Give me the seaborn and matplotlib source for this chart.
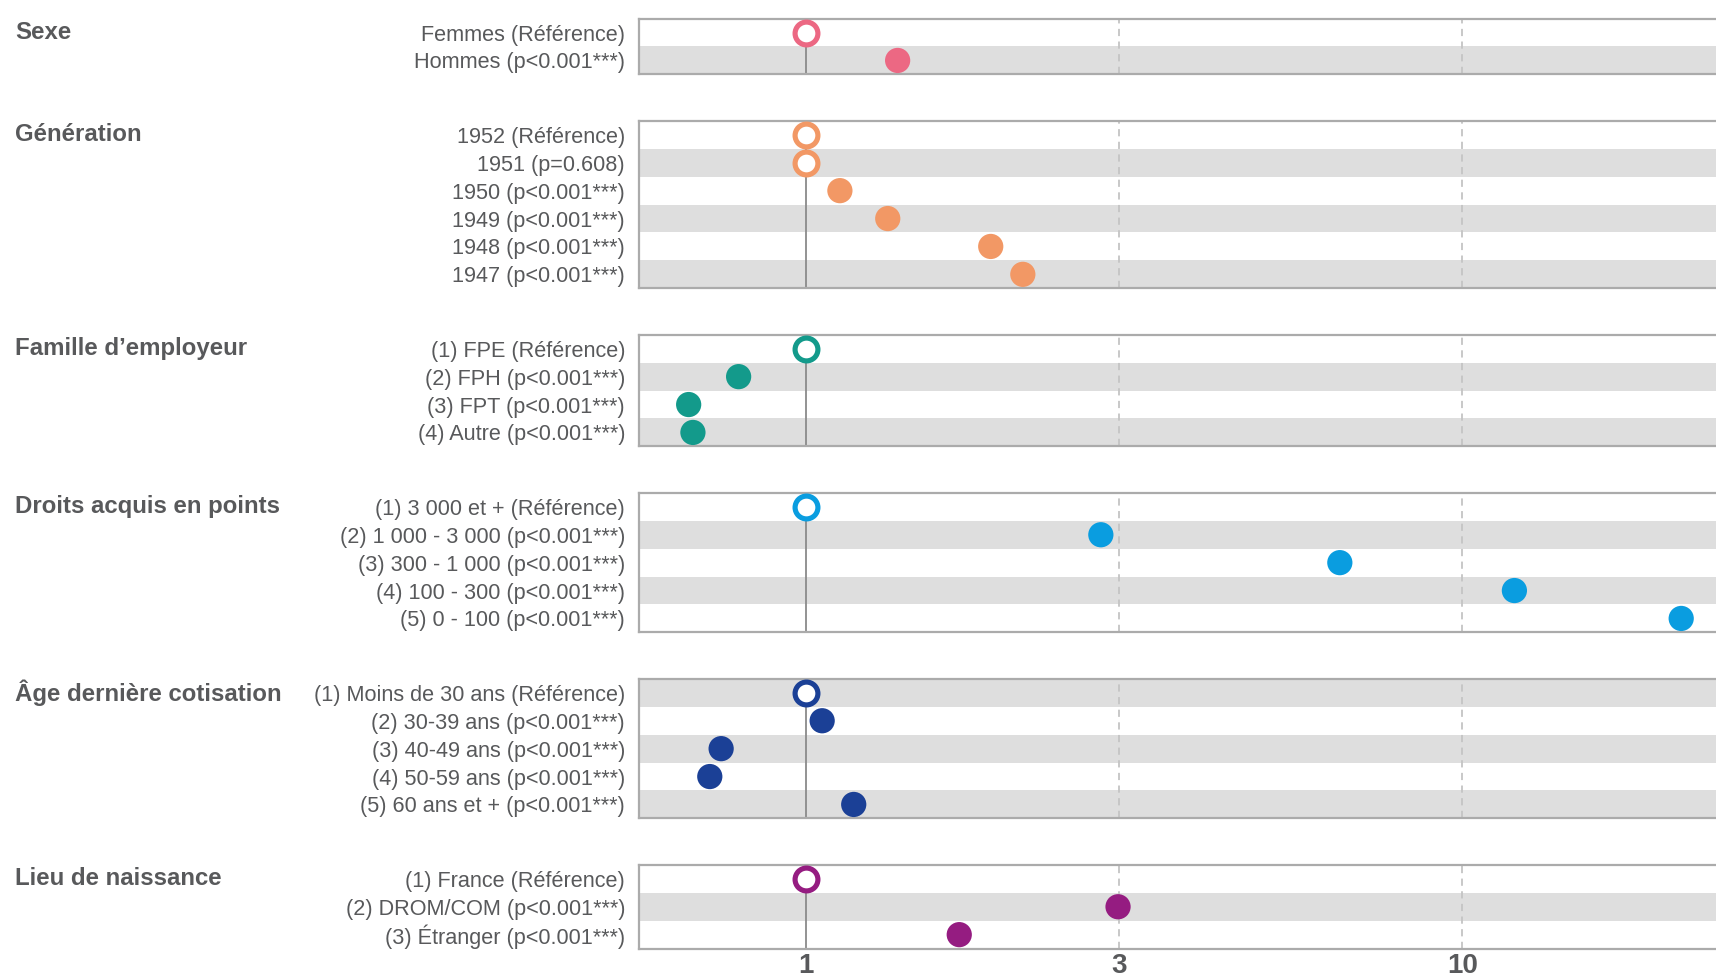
import numpy as np
import matplotlib
matplotlib.use("Agg")
import matplotlib.pyplot as plt
import matplotlib.transforms as mtransforms
import seaborn as sns

# =============================
# Data (odds ratios)
# =============================
titles = ["Sexe", "Génération", "Famille d\u2019employeur", "Droits acquis en points",
          "Âge dernière cotisation", "Lieu de naissance"]

sexe_labels = ["Femmes (Référence)", "Hommes (p<0.001***)"]
sexe_or = [1.0, 1.38]
sexe_hollow = [True, False]

gen_labels = ["1952 (Référence)", "1951 (p=0.608)", "1950 (p<0.001***)",
              "1949 (p<0.001***)", "1948 (p<0.001***)", "1947 (p<0.001***)"]
gen_or = [1.0, 1.0, 1.127, 1.333, 1.913, 2.141]
gen_hollow = [True, True, False, False, False, False]

fam_labels = ["(1) FPE (Référence)", "(2) FPH (p<0.001***)", "(3) FPT (p<0.001***)",
              "(4) Autre (p<0.001***)"]
fam_or = [1.0, 0.790, 0.663, 0.673]
fam_hollow = [True, False, False, False]

droits_labels = ["(1) 3 000 et + (Référence)", "(2) 1 000 - 3 000 (p<0.001***)",
                 "(3) 300 - 1 000 (p<0.001***)", "(4) 100 - 300 (p<0.001***)",
                 "(5) 0 - 100 (p<0.001***)"]
droits_or = [1.0, 2.815, 6.51, 12.01, 21.56]
droits_hollow = [True, False, False, False, False]

age_labels = ["(1) Moins de 30 ans (Référence)", "(2) 30-39 ans (p<0.001***)",
              "(3) 40-49 ans (p<0.001***)", "(4) 50-59 ans (p<0.001***)",
              "(5) 60 ans et + (p<0.001***)"]
age_or = [1.0, 1.059, 0.743, 0.714, 1.183]
age_hollow = [True, False, False, False, False]

lieu_labels = ["(1) France (Référence)", "(2) DROM/COM (p<0.001***)",
               "(3) Étranger (p<0.001***)"]
lieu_or = [1.0, 2.99, 1.713]
lieu_hollow = [True, False, False]

colors = ["#EC6883", "#F29865", "#139A8B", "#0A9DE0", "#1B4096", "#951C81"]

xticks = [1, 3, 10]
xtick_labels = ["1", "3", "10"]

panels = [
    (sexe_labels, sexe_or, sexe_hollow),
    (gen_labels, gen_or, gen_hollow),
    (fam_labels, fam_or, fam_hollow),
    (droits_labels, droits_or, droits_hollow),
    (age_labels, age_or, age_hollow),
    (lieu_labels, lieu_or, lieu_hollow),
]

# =============================
# Style
# =============================
sns.set_theme(style="white")
plt.rcParams["font.family"] = ["DejaVu Sans Condensed", "Liberation Sans", "DejaVu Sans"]
text_col = "#58595B"
stripe_col = "#DEDEDE"
frame_col = "#ABABAB"

W, H = 1716, 980
fig = plt.figure(figsize=(W / 100, H / 100), dpi=100)

left_px = 639
top_px = 18.6
row_h = 27.9
gap = 46.5

y_cursor = top_px
row_global = 0
for k, (labels, ors, hollow) in enumerate(panels):
    n = len(labels)
    h = n * row_h
    ax = fig.add_axes([left_px / W, 1 - (y_cursor + h) / H, 1 - left_px / W, h / H])
    y_cursor += h + gap

    # alternating stripes, continuous over the whole chart
    for i in range(n):
        if (row_global + i) % 2 == 1:
            ax.axhspan(i - 0.5, i + 0.5, color=stripe_col, lw=0, zorder=0)
    row_global += n

    # guide lines
    for xv in xticks[1:]:
        ax.axvline(xv, color="#C4C4C4", lw=1.3, ls=(0, (4, 3)), zorder=1)
    ax.plot([1, 1], [0, n - 0.5], color="#8A8A8A", lw=1.3, zorder=1)

    ys = np.arange(n)
    ors = np.array(ors)
    hol = np.array(hollow)
    sns.scatterplot(x=ors[~hol], y=ys[~hol], ax=ax, s=330, color=colors[k],
                    edgecolor="none", zorder=3, legend=False)
    sns.scatterplot(x=ors[hol], y=ys[hol], ax=ax, s=270, facecolor="white",
                    edgecolor=colors[k], linewidth=3.7, zorder=3, legend=False)

    ax.set_xscale("log")
    ax.set_xlim(0.557, 24.36)
    ax.set_ylim(n - 0.5, -0.5)
    ax.set_yticks(ys)
    ax.set_yticklabels(labels, fontsize=15.6, color=text_col)
    ax.tick_params(axis="y", length=0, pad=10)
    ax.minorticks_off()
    ax.set_xlabel("")
    ax.set_ylabel("")

    for side in ["left", "top", "bottom"]:
        ax.spines[side].set_color(frame_col)
        ax.spines[side].set_linewidth(1.6)
    ax.spines["right"].set_visible(False)

    if k == len(panels) - 1:
        ax.set_xticks(xticks)
        ax.set_xticklabels(xtick_labels, fontsize=20, fontweight="bold", color=text_col)
        ax.tick_params(axis="x", length=0, pad=3)
    else:
        ax.set_xticks([])

    # category title on the left, aligned with first row
    trans = mtransforms.blended_transform_factory(fig.transFigure, ax.transData)
    ax.text(15 / W, 0, titles[k], transform=trans, ha="left", va="center",
            fontsize=17.3, fontweight="bold", color=text_col)

fig.savefig("out.png", dpi=100)
